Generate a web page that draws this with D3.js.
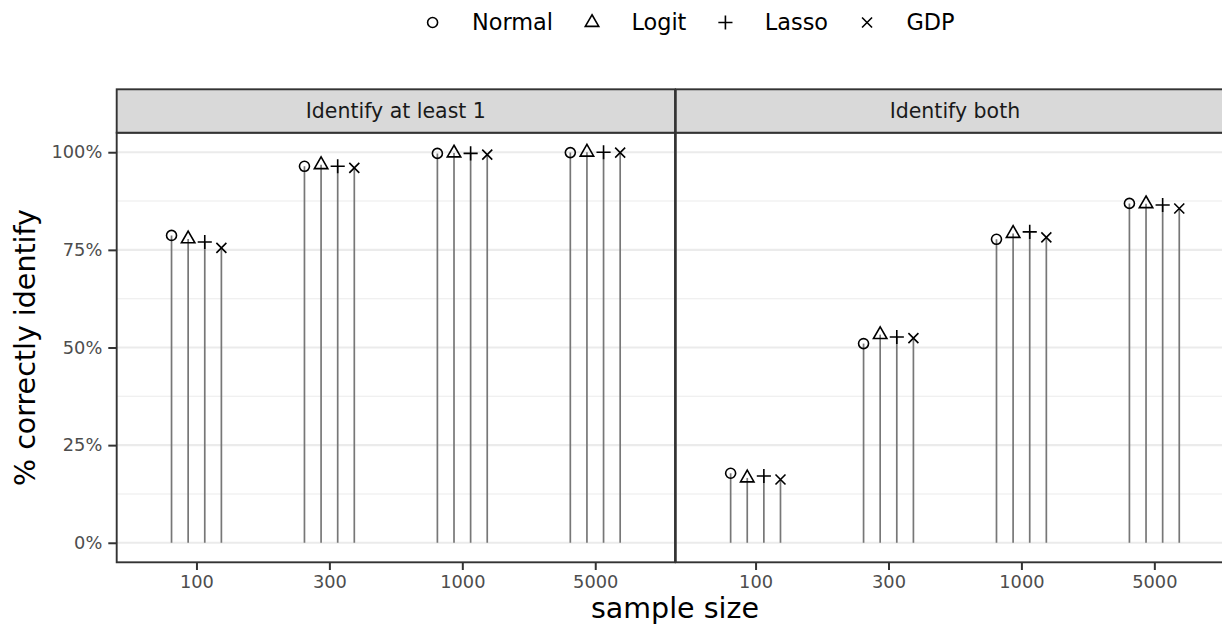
<!DOCTYPE html>
<html>
<head>
<meta charset="utf-8">
<script src="https://cdn.jsdelivr.net/npm/d3@7"></script>
<style>
  body { margin: 0; background: #fff; }
  text { font-family: "DejaVu Sans", sans-serif; }
</style>
</head>
<body>
<div id="chart"></div>
<script>
// data
var panels = ["Identify at least 1", "Identify both"];
var sampleSizes = ["100", "300", "1000", "5000"];
var methods = ["Normal", "Logit", "Lasso", "GDP"];
var yTicks = [0, 0.25, 0.5, 0.75, 1];
var yMinor = [0.125, 0.375, 0.625, 0.875];

// percent correct, one array per method, per panel
var atLeastOne = {
  Normal: [78.7, 96.4, 99.7, 99.9],
  Logit: [77.8, 96.8, 99.8, 100],
  Lasso: [77.0, 96.4, 99.7, 100],
  GDP: [75.5, 96.0, 99.4, 99.9]
};
var both = {
  Normal: [17.8, 51.0, 77.7, 86.9],
  Logit: [16.6, 53.3, 79.2, 86.8],
  Lasso: [17.1, 52.7, 79.6, 86.5],
  GDP: [16.2, 52.4, 78.2, 85.6]
};
var panelData = [atLeastOne, both];

var svgWidth = 1222;
var svgHeight = 628;

// panel geometry
var panelTop = 132.7;
var panelBottom = 562.3;
var stripTop = 89.3;
var panelLeft = 116.7;
var panelW = 558.3;

var svg = d3.select("#chart")
  .append("svg")
  .attr("width", svgWidth)
  .attr("height", svgHeight);

var yScale = d3.scaleLinear()
  .domain([-0.05, 1.05])
  .range([panelBottom, panelTop]);

// R style point shapes
var R = 5;
function shapePath(m) {
  var p = d3.path();
  if (m === "Logit") {
    var r = 1.555 * R;
    p.moveTo(0, -r);
    p.lineTo(r * Math.sqrt(3) / 2, r / 2);
    p.lineTo(-r * Math.sqrt(3) / 2, r / 2);
    p.closePath();
  } else if (m === "Lasso") {
    var a = Math.SQRT2 * R;
    p.moveTo(-a, 0); p.lineTo(a, 0);
    p.moveTo(0, -a); p.lineTo(0, a);
  } else {
    var b = R;
    p.moveTo(-b, -b); p.lineTo(b, b);
    p.moveTo(-b, b); p.lineTo(b, -b);
  }
  return p.toString();
}
function drawShape(g, m) {
  if (m === "Normal") {
    g.append("circle").attr("r", R)
      .attr("fill", "none").attr("stroke", "#000").attr("stroke-width", 1.6);
  } else {
    g.append("path").attr("d", shapePath(m))
      .attr("fill", "none").attr("stroke", "#000").attr("stroke-width", 1.6);
  }
}

panels.forEach(function(name, pi) {
  var x0 = panelLeft + pi * (panelW + 0.8);
  var xScale = d3.scalePoint()
    .domain(sampleSizes)
    .range([x0, x0 + panelW])
    .padding(0.6);
  var step = xScale.step();
  var dodge = d3.scaleBand()
    .domain(methods)
    .range([-0.25 * step, 0.25 * step]);

  var g = svg.append("g");

  // background grid
  g.selectAll(".minor")
    .data(yMinor)
    .enter()
    .append("line")
    .attr("x1", x0).attr("x2", x0 + panelW)
    .attr("y1", d => yScale(d)).attr("y2", d => yScale(d))
    .attr("stroke", "#EBEBEB").attr("stroke-width", 1.1);
  g.selectAll(".major")
    .data(yTicks)
    .enter()
    .append("line")
    .attr("x1", x0).attr("x2", x0 + panelW)
    .attr("y1", d => yScale(d)).attr("y2", d => yScale(d))
    .attr("stroke", "#EBEBEB").attr("stroke-width", 2.2);

  // flatten into points
  var pts = [];
  methods.forEach(function(m) {
    panelData[pi][m].forEach(function(v, i) {
      pts.push({ m: m, size: sampleSizes[i], v: v / 100 });
    });
  });

  // stems from zero
  g.selectAll(".stem")
    .data(pts)
    .enter()
    .append("line")
    .attr("x1", d => xScale(d.size) + dodge(d.m) + dodge.bandwidth() / 2)
    .attr("x2", d => xScale(d.size) + dodge(d.m) + dodge.bandwidth() / 2)
    .attr("y1", yScale(0))
    .attr("y2", d => yScale(d.v))
    .attr("stroke", "#777777")
    .attr("stroke-width", 1.7);

  g.selectAll(".pt")
    .data(pts)
    .enter()
    .append("g")
    .attr("transform", d => `translate(${xScale(d.size) + dodge(d.m) + dodge.bandwidth() / 2}, ${yScale(d.v)})`)
    .each(function(d) { drawShape(d3.select(this), d.m); });

  // panel border
  g.append("rect")
    .attr("x", x0).attr("y", panelTop)
    .attr("width", panelW).attr("height", panelBottom - panelTop)
    .attr("fill", "none").attr("stroke", "#333333").attr("stroke-width", 1.9);

  // strip
  g.append("rect")
    .attr("x", x0).attr("y", stripTop)
    .attr("width", panelW).attr("height", panelTop - stripTop)
    .attr("fill", "#D9D9D9").attr("stroke", "#333333").attr("stroke-width", 1.9);
  g.append("text")
    .attr("x", x0 + panelW / 2)
    .attr("y", (stripTop + panelTop) / 2)
    .attr("dy", "0.35em")
    .attr("text-anchor", "middle")
    .attr("font-size", "20.5px")
    .attr("fill", "#1A1A1A")
    .text(name);

  // x axis
  var bottomAxis = d3.axisBottom(xScale).tickSize(7.7).tickPadding(5);
  var xAxis = g.append("g")
    .attr("transform", `translate(0, ${panelBottom})`)
    .call(bottomAxis);
  xAxis.select(".domain").remove();
  xAxis.selectAll("line").attr("stroke", "#333333").attr("stroke-width", 2);
  xAxis.selectAll("text")
    .attr("font-size", "17.8px")
    .attr("font-family", "DejaVu Sans")
    .attr("fill", "#4D4D4D");

  if (pi === 0) {
    var leftAxis = d3.axisLeft(yScale)
      .tickValues(yTicks)
      .tickSize(8.4)
      .tickPadding(6)
      .tickFormat(d3.format(".0%"));
    var yAxis = g.append("g")
      .attr("transform", `translate(${x0}, 0)`)
      .call(leftAxis);
    yAxis.select(".domain").remove();
    yAxis.selectAll("line").attr("stroke", "#333333").attr("stroke-width", 2);
    yAxis.selectAll("text")
      .attr("font-size", "17.8px")
      .attr("font-family", "DejaVu Sans")
      .attr("fill", "#4D4D4D");
  }
});

// axis titles
svg.append("text")
  .attr("x", panelLeft + panelW)
  .attr("y", 618)
  .attr("text-anchor", "middle")
  .attr("font-size", "28.5px")
  .attr("fill", "#000")
  .text("sample size");

svg.append("text")
  .attr("transform", `translate(35, ${(panelTop + panelBottom) / 2}) rotate(-90)`)
  .attr("text-anchor", "middle")
  .attr("font-size", "28.5px")
  .attr("fill", "#000")
  .text("% correctly identify");

// legend on top
var legend = svg.append("g").attr("transform", "translate(0, 22.5)");
var lx = 432.6;
methods.forEach(function(m) {
  var item = legend.append("g").attr("transform", `translate(${lx}, 0)`);
  drawShape(item, m);
  var t = item.append("text")
    .attr("x", 39.4)
    .attr("dy", "0.35em")
    .attr("font-size", "22.4px")
    .attr("fill", "#000")
    .text(m);
  lx += 39.4 + t.node().getComputedTextLength() + 39;
});
</script>
</body>
</html>
